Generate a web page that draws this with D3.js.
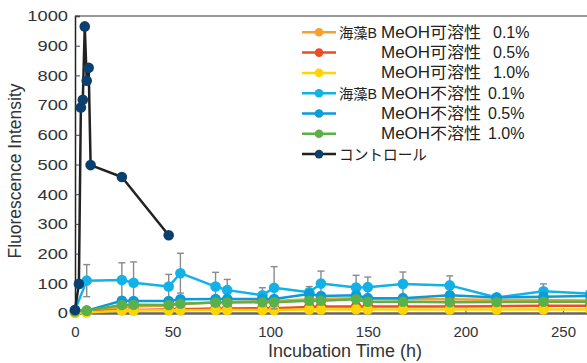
<!DOCTYPE html>
<html>
<head>
<meta charset="utf-8">
<script src="https://cdn.jsdelivr.net/npm/d3@7"></script>
<style>
	body { margin: 0; background: #fff; }
	svg { display: block; font-family: "Liberation Sans", Arial, "Noto Sans CJK JP", sans-serif; }
	.line { fill: none; stroke-width: 2.5; stroke-linejoin: round; }
</style>
</head>
<body>
<div id="chart"></div>
<script>
// time points (h)
const hours = [0, 6, 24, 30, 48, 54, 72, 78, 96, 102, 120, 126, 144, 150, 168, 192, 216, 240, 264];
const controlHours = [0, 2, 3, 4, 5, 6, 7, 8, 24, 48];

// series values
const sol01 = [5, 6, 20, 22, 25, 30, 35, 37, 40, 40, 46, 48, 50, 48, 46, 46, 44, 44, 42];
const sol05 = [3, 4, 10, 10, 12, 13, 15, 15, 16, 16, 20, 22, 22, 22, 22, 22, 23, 24, 24];
const sol10 = [0, 2, 8, 8, 9, 9, 10, 10, 10, 10, 12, 12, 13, 12, 12, 12, 12, 12, 12];
const insol01 = [10, 109, 111, 102, 89, 134, 89, 77, 60, 85, 70, 99, 86, 87, 98, 93, 52, 73, 65];
const insol01Err = [0, 54, 58, 70, 41, 67, 48, 36, 25, 71, 19, 42, 41, 34, 40, 32, 5, 25, 10];
const insol05 = [8, 8, 41, 40, 40, 46, 47, 47, 47, 47, 64, 57, 60, 50, 50, 60, 52, 55, 57];
const insol10 = [5, 8, 27, 28, 27, 31, 35, 35, 36, 36, 41, 41, 46, 38, 38, 36, 37, 38, 38];
const control = [10, 98, 692, 718, 965, 782, 826, 498, 458, 262];

// legend labels
const legendPrefix = ["海藻B", "", "", "海藻B", "", "", ""];
const legendName = ["MeOH可溶性", "MeOH可溶性", "MeOH可溶性", "MeOH不溶性", "MeOH不溶性", "MeOH不溶性", "コントロール"];
const legendConc = ["0.1%", "0.5%", "1.0%", "0.1%", "0.5%", "1.0%", ""];

const xTicks = [0, 50, 100, 150, 200, 250];
const yTicks = [0, 100, 200, 300, 400, 500, 600, 700, 800, 900, 1000];

const W = 587, H = 363;
const margin = {left: 75, top: 16, bottom: 50};

const series = [
	{x: hours, y: sol01, line: "#f5a12b", dot: "#f5a12b"},
	{x: hours, y: sol05, line: "#ee4b23", dot: "#ee4b23"},
	{x: hours, y: sol10, line: "#ffd400", dot: "#ffd400"},
	{x: hours, y: insol01, err: insol01Err, line: "#12b2e8", dot: "#12b2e8"},
	{x: hours, y: insol05, line: "#0a9bd9", dot: "#0a9bd9"},
	{x: hours, y: insol10, line: "#5bb04a", dot: "#5bb04a"},
	{x: controlHours, y: control, line: "#222222", dot: "#0b3f6e"}
];

const x = d3.scaleLinear().domain([0, 300]).range([margin.left, margin.left + 300 * 1.952]);
const y = d3.scaleLinear().domain([0, 1000]).range([H - margin.bottom, margin.top]);

const svg = d3.select("#chart").append("svg")
	.attr("width", W)
	.attr("height", H);

// top border
svg.append("line")
	.attr("x1", margin.left).attr("x2", W)
	.attr("y1", y(1000)).attr("y2", y(1000))
	.attr("stroke", "#333").attr("stroke-width", 1.2);

// x axis
const gx = svg.append("g")
	.attr("transform", "translate(0," + y(0) + ")")
	.call(d3.axisBottom(x).tickValues(xTicks).tickSize(-5).tickPadding(13).tickFormat(d => d));
gx.select(".domain").attr("stroke", "#666").attr("stroke-width", 2.5);
gx.selectAll(".tick line").attr("stroke", "#666").attr("stroke-width", 1.2);
gx.selectAll(".tick text").attr("font-size", 15).attr("fill", "#333");

// y axis
const gy = svg.append("g")
	.attr("transform", "translate(" + margin.left + ",0)")
	.call(d3.axisLeft(y).tickValues(yTicks).tickSize(-5).tickPadding(0).tickFormat(d => d));
gy.select(".domain").attr("stroke", "#222").attr("stroke-width", 1.5);
gy.selectAll(".tick line").attr("stroke", "#444").attr("stroke-width", 1);
gy.selectAll(".tick text")
	.attr("font-size", 15).attr("fill", "#333")
	.attr("x", -7 / 1.22)
	.attr("transform", "scale(1.22,1)");

// axis titles
svg.append("text")
	.attr("x", 345).attr("y", 357)
	.attr("text-anchor", "middle")
	.attr("font-size", 18).attr("fill", "#333")
	.text("Incubation Time (h)");

svg.append("text")
	.attr("transform", "translate(21,171) rotate(-90)")
	.attr("text-anchor", "middle")
	.attr("font-size", 17.5).attr("fill", "#333")
	.text("Fluorescence Intensity");

// series
const valueLine = d3.line()
	.x(d => x(d[0]))
	.y(d => y(d[1]));

series.forEach(s => {
	const pts = s.x.map((t, i) => [t, s.y[i]]);
	const g = svg.append("g");

	if (s.err) {
		const eb = g.selectAll(".err")
			.data(pts.map((p, i) => [p[0], p[1], s.err[i]]).filter(d => d[2] > 0))
			.enter().append("g")
			.attr("stroke", "#8a8a8a").attr("stroke-width", 1.4);
		eb.append("line")
			.attr("x1", d => x(d[0])).attr("x2", d => x(d[0]))
			.attr("y1", d => y(d[1] - d[2])).attr("y2", d => y(d[1] + d[2]));
		eb.append("line")
			.attr("x1", d => x(d[0]) - 3.5).attr("x2", d => x(d[0]) + 3.5)
			.attr("y1", d => y(d[1] + d[2])).attr("y2", d => y(d[1] + d[2]));
		eb.append("line")
			.attr("x1", d => x(d[0]) - 3.5).attr("x2", d => x(d[0]) + 3.5)
			.attr("y1", d => y(d[1] - d[2])).attr("y2", d => y(d[1] - d[2]));
	}

	g.append("path")
		.datum(pts)
		.attr("class", "line")
		.attr("stroke", s.line)
		.attr("d", valueLine);

	g.selectAll("circle")
		.data(pts)
		.enter().append("circle")
		.attr("cx", d => x(d[0]))
		.attr("cy", d => y(d[1]))
		.attr("r", 5.3)
		.attr("fill", s.dot);
});

// legend
const legend = svg.append("g").attr("font-size", 16).attr("fill", "#222");
series.forEach((s, i) => {
	const ly = 32.3 + i * 20.3;
	legend.append("line")
		.attr("x1", 302).attr("x2", 336)
		.attr("y1", ly).attr("y2", ly)
		.attr("stroke", s.line).attr("stroke-width", 2.5);
	legend.append("circle")
		.attr("cx", 319).attr("cy", ly).attr("r", 4.3)
		.attr("fill", s.dot);
	if (legendPrefix[i]) {
		legend.append("text")
			.attr("x", 339).attr("y", ly + 5.5)
			.attr("font-size", 14)
			.attr("textLength", 38).attr("lengthAdjust", "spacingAndGlyphs")
			.text(legendPrefix[i]);
	}
	legend.append("text")
		.attr("x", i === 6 ? 339 : 381).attr("y", ly + 5.5)
		.attr("font-size", i === 6 ? 15 : 16)
		.attr("textLength", i === 6 ? 88 : 100).attr("lengthAdjust", "spacingAndGlyphs")
		.text(legendName[i]);
	if (legendConc[i]) {
		legend.append("text")
			.attr("x", i < 3 ? 493 : 488).attr("y", ly + 5.5)
			.text(legendConc[i]);
	}
});
</script>
</body>
</html>
